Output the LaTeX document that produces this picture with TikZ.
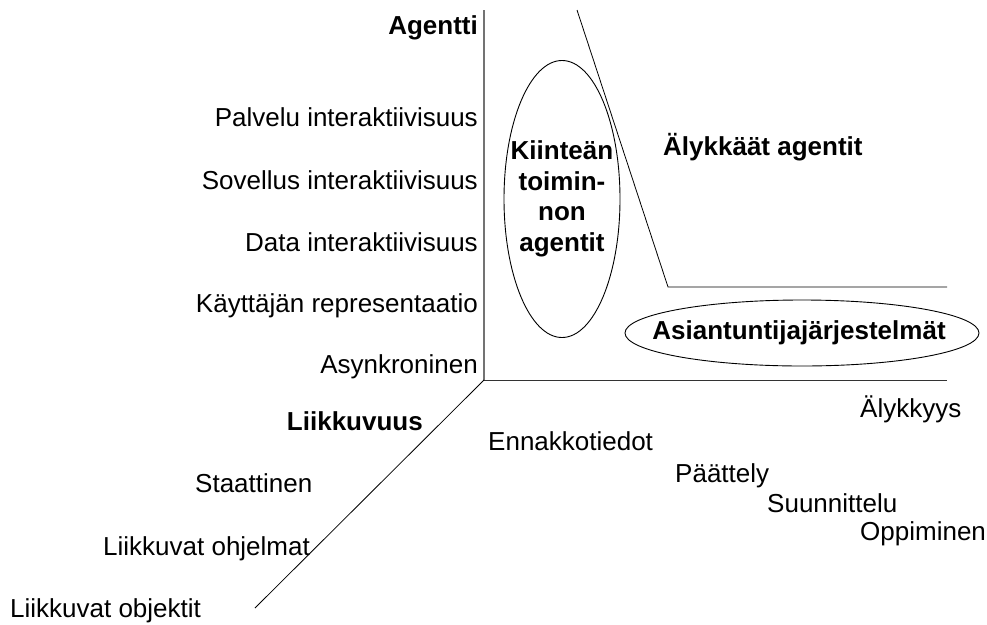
\documentclass[tikz,border=0pt]{standalone}
\usepackage{fontspec}
\setmainfont{Liberation Sans}
\usetikzlibrary{shapes.geometric}
\begin{document}
\begin{tikzpicture}[x=1pt,y=-1pt,
  lbl/.style={inner sep=0pt, font=\fontsize{26}{30.5}\selectfont},
  blbl/.style={lbl, font=\fontsize{26}{30.5}\selectfont\bfseries},
  oval/.style={draw, ellipse, inner sep=0pt, line width=0.9pt},
  axis/.style={line width=1.2pt, draw=black!55},
  thin line/.style={line width=0.8pt, draw=black}]
\useasboundingbox (0,0) rectangle (987,624);

% axes
\coordinate (origin) at (484,380);
\coordinate (ytop)   at (484,10);
\coordinate (xend)   at (947,380);
\coordinate (zend)   at (255,608);
\draw[axis] (ytop) -- (origin);
\draw[thin line, draw=black!80] (origin) -- (xend);
\draw[thin line] (origin) -- (zend);

% boundary of the intelligent agents region
\coordinate (btop)    at (577,10);
\coordinate (bcorner) at (668,287);
\coordinate (bend)    at (947,287);
\draw[thin line] (btop) -- (bcorner) -- (bend);

% vertical axis labels
\node[blbl, anchor=base east] (agentti) at (478,34) {Agentti};
\node[lbl, anchor=base east] (palvelu) at (478,126) {Palvelu interaktiivisuus};
\node[lbl, anchor=base east] (sovellus) at (478,189) {Sovellus interaktiivisuus};
\node[lbl, anchor=base east] (data) at (478,251) {Data interaktiivisuus};
\node[lbl, anchor=base east] (kayttaja) at (478,312) {Käyttäjän representaatio};
\node[lbl, anchor=base east] (asynk) at (478,373) {Asynkroninen};

% mobility axis labels
\node[blbl, anchor=base east] (liikkuvuus) at (423,430) {Liikkuvuus};
\node[lbl, anchor=base west] (staattinen) at (195,492) {Staattinen};
\node[lbl, anchor=base west] (ohjelmat) at (103,555) {Liikkuvat ohjelmat};
\node[lbl, anchor=base west] (objektit) at (10,617) {Liikkuvat objektit};

% intelligence axis labels
\node[lbl, anchor=base west] (alykkyys) at (860,417) {Älykkyys};
\node[lbl, anchor=base west] (ennakko) at (488,450) {Ennakkotiedot};
\node[lbl, anchor=base west] (paattely) at (675,482) {Päättely};
\node[lbl, anchor=base west] (suunnittelu) at (767,512) {Suunnittelu};
\node[lbl, anchor=base west] (oppiminen) at (860,540) {Oppiminen};

% regions
\node[blbl, anchor=base west] (alykkaat) at (663,155) {Älykkäät agentit};
\node[oval, minimum width=116, minimum height=277] (kiintea) at (562,199) {};
\node[blbl, align=center] (kiinteatxt) at (kiintea.center) {Kiinteän\\toimin-\\non\\agentit};
\node[oval, minimum width=354, minimum height=66] (asiantuntija) at (802,333) {};
\node[blbl] (asiantuntijatxt) at (799,333) {Asiantuntijajärjestelmät};
\end{tikzpicture}
\end{document}
